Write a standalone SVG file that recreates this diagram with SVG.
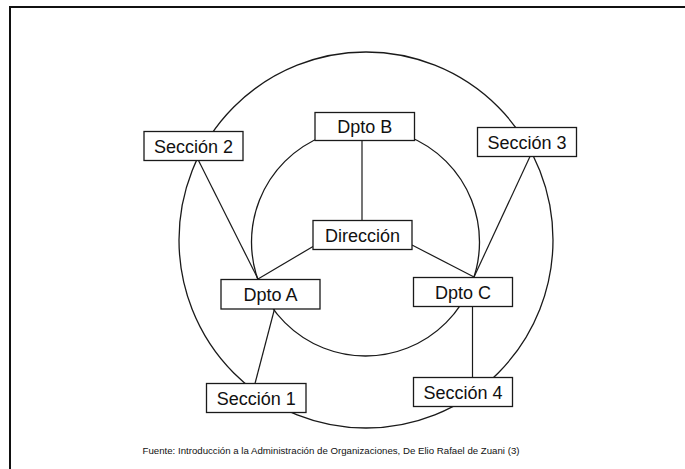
<svg xmlns="http://www.w3.org/2000/svg" width="685" height="469" viewBox="0 0 685 469">
  <style>
    .ring { fill: none; stroke: #1a1a1a; stroke-width: 1.3; }
    .box { fill: #ffffff; stroke: #1a1a1a; stroke-width: 1.3; }
    .lbl { font-family: "Liberation Sans", Arial, sans-serif; font-size: 18px; fill: #111111; text-anchor: middle; }
    .link { stroke: #1a1a1a; stroke-width: 1.2; fill: none; }
    .note { font-family: "Liberation Sans", Arial, sans-serif; font-size: 8.6px; fill: #111111; }
  </style>

  <rect width="685" height="469" fill="#ffffff"/>

  <!-- page frame: top and left edges -->
  <path d="M10 469 V7 H685" fill="none" stroke="#111111" stroke-width="2"/>

  <!-- concentric rings -->
  <g id="rings">
    <ellipse class="ring" cx="366" cy="240" rx="187" ry="188"/>
    <circle class="ring" cx="365.5" cy="242" r="114"/>
  </g>

  <!-- connectors -->
  <g id="connectors">
    <line class="link" x1="362" y1="140.5" x2="362" y2="220.5"/>
    <line class="link" x1="198.5" y1="160.5" x2="258" y2="279"/>
    <line class="link" x1="313" y1="246.5" x2="258" y2="279"/>
    <line class="link" x1="530" y1="156.5" x2="474" y2="277"/>
    <line class="link" x1="412" y1="245" x2="474" y2="277"/>
    <line class="link" x1="274.5" y1="309" x2="255" y2="383.5"/>
    <line class="link" x1="472.5" y1="306.5" x2="472.5" y2="377.5"/>
  </g>

  <g id="seccion2">
    <rect class="box" x="144" y="131.5" width="99" height="29"/>
    <text class="lbl" x="193.5" y="152.5">Sección 2</text>
  </g>
  <g id="dptoB">
    <rect class="box" x="315" y="112.5" width="99.5" height="28"/>
    <text class="lbl" x="364.7" y="133">Dpto B</text>
  </g>
  <g id="seccion3">
    <rect class="box" x="477.5" y="127.5" width="99" height="29"/>
    <text class="lbl" x="527" y="148.5">Sección 3</text>
  </g>
  <g id="direccion">
    <rect class="box" x="313" y="220.5" width="99" height="29"/>
    <text class="lbl" x="362.5" y="241.5">Dirección</text>
  </g>
  <g id="dptoA">
    <rect class="box" x="221" y="279.5" width="99" height="29.5"/>
    <text class="lbl" x="270.5" y="300.7">Dpto A</text>
  </g>
  <g id="dptoC">
    <rect class="box" x="413.5" y="277.5" width="99" height="29"/>
    <text class="lbl" x="463" y="298.5">Dpto C</text>
  </g>
  <g id="seccion1">
    <rect class="box" x="206.5" y="383.5" width="99.5" height="29"/>
    <text class="lbl" x="256.2" y="404.5">Sección 1</text>
  </g>
  <g id="seccion4">
    <rect class="box" x="413.5" y="377.5" width="99" height="29"/>
    <text class="lbl" x="463" y="398.5">Sección 4</text>
  </g>

  <text class="note" x="142.5" y="453.5" textLength="377" lengthAdjust="spacingAndGlyphs">Fuente: Introducción a la Administración de Organizaciones, De Elio Rafael de Zuani (3)</text>
</svg>
